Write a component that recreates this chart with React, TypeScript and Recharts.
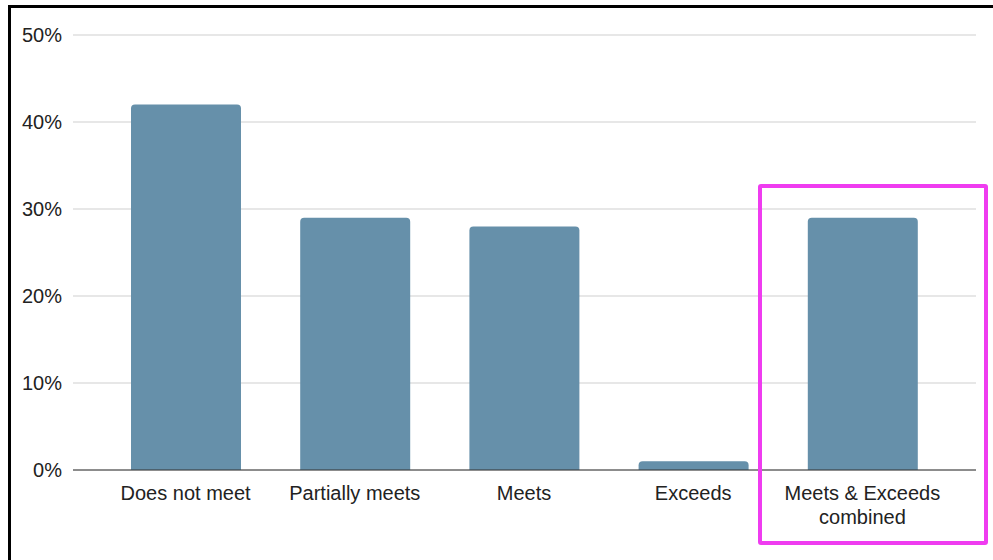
import { BarChart, Bar, XAxis, YAxis, CartesianGrid } from 'recharts';

const categories = ['Does not meet', 'Partially meets', 'Meets', 'Exceeds', 'Meets & Exceeds\ncombined'];
const shares = [42, 29, 28, 1, 29];
const yTicks = [0, 10, 20, 30, 40, 50];

const data = categories.map((name, i) => ({ name, share: shares[i] }));

const FONT = '"Liberation Sans", Arial, sans-serif';

function CategoryTick({ x, y, payload }: any) {
  const lines = String(payload.value).split('\n');
  return (
    <text x={x} y={y} textAnchor="middle" fill="#222" fontSize={20} fontFamily={FONT}>
      {lines.map((line, i) => (
        <tspan key={i} x={x} dy={i === 0 ? 16 : 24}>
          {line}
        </tspan>
      ))}
    </text>
  );
}

export default function App() {
  return (
    <div style={{ position: 'fixed', left: 0, top: 0, width: 993, height: 560, overflow: 'hidden', background: '#fff' }}>
      <div style={{ position: 'absolute', left: 0, top: 0 }}>
        <BarChart width={993} height={560} data={data} margin={{ top: 35, right: 17, bottom: 60, left: 0 }}>
          <CartesianGrid vertical={false} stroke="#cfcfcf" strokeWidth={1.2} />
          <XAxis
            dataKey="name"
            interval={0}
            tickLine={false}
            stroke="#333"
            padding={{ left: 28, right: 29 }}
            tick={<CategoryTick />}
            tickMargin={8}
          />
          <YAxis
            width={73}
            domain={[0, 50]}
            ticks={yTicks}
            tickFormatter={(v) => `${v}%`}
            axisLine={false}
            tickLine={false}
            tickMargin={5}
            tick={{ fill: '#222', fontSize: 20, fontFamily: FONT }}
          />
          <Bar dataKey="share" fill="#6690aa" barSize={110} radius={[4, 4, 0, 0]} isAnimationActive={false} />
        </BarChart>
      </div>
      {/* frame edges along the top and left */}
      <div
        style={{
          position: 'absolute',
          left: 8,
          top: 5,
          width: 1100,
          height: 700,
          borderTop: '3px solid #000',
          borderLeft: '3px solid #000',
          pointerEvents: 'none',
        }}
      />
      <div
        style={{
          position: 'absolute',
          left: 758,
          top: 184,
          width: 230,
          height: 361,
          boxSizing: 'border-box',
          border: '4.5px solid #ef3cf0',
          borderRadius: 3,
          pointerEvents: 'none',
        }}
      />
    </div>
  );
}
